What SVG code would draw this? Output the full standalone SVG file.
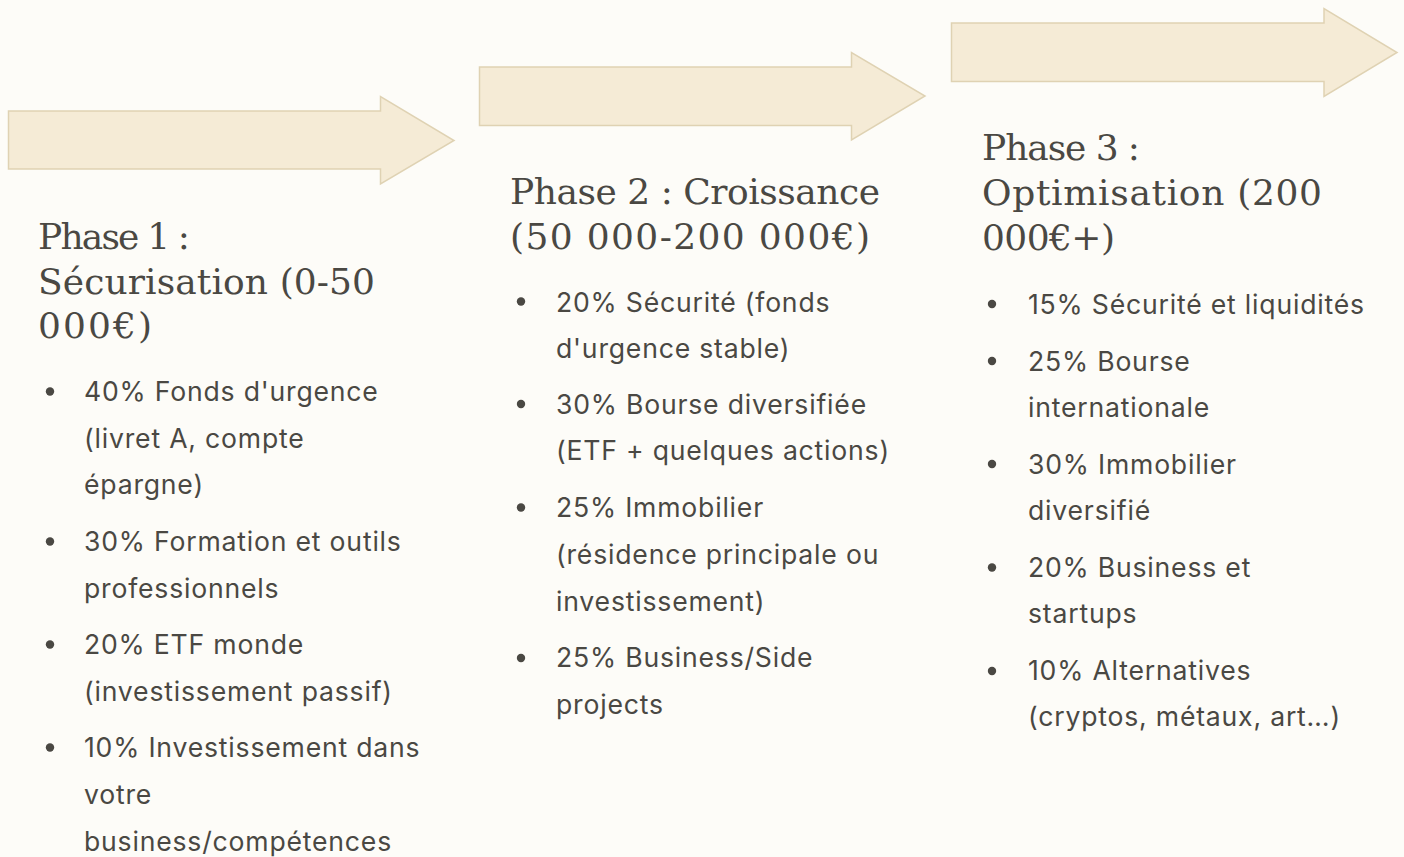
<svg xmlns="http://www.w3.org/2000/svg" width="1404" height="857" viewBox="0 0 1404 857">
<style>
.bg{fill:#FDFCF8}
.arrow{fill:#F5EBD6;stroke:#DFD2B3;stroke-width:1.5;stroke-linejoin:miter}
.title{font-family:"DejaVu Serif","Liberation Serif",serif;font-size:36px;fill:#4A4843}
.item{font-family:Inter,"Liberation Sans",sans-serif;font-size:26.6px;letter-spacing:0.8px;fill:#4A4843}
.dot{fill:#4A4843}
</style>
<rect class="bg" x="0" y="0" width="1404" height="857"/>
<g id="connectors">
<path class="arrow" d="M8.5,111 H380.5 V96.5 L454,140.5 L380.5,184 V169 H8.5 Z"/>
<path class="arrow" d="M479.5,67 H851.5 V52.5 L925,96 L851.5,140 V125.5 H479.5 Z"/>
<path class="arrow" d="M951.5,23 H1324 V8.5 L1397,52.5 L1324,96.5 V81.5 H951.5 Z"/>
</g>
<g id="phase1">
<text class="title"><tspan x="38" y="249" textLength="152" lengthAdjust="spacing">Phase 1 :</tspan><tspan x="38" y="293.5" textLength="337" lengthAdjust="spacing">Sécurisation (0-50</tspan><tspan x="38" y="338" textLength="114" lengthAdjust="spacing">000€)</tspan></text>
<circle class="dot" cx="50" cy="391.5" r="4.2"/>
<circle class="dot" cx="50" cy="541.5" r="4.2"/>
<circle class="dot" cx="50" cy="644.5" r="4.2"/>
<circle class="dot" cx="50" cy="747.5" r="4.2"/>
<text class="item"><tspan x="84" y="401">40% Fonds d'urgence</tspan><tspan x="84" y="447.5">(livret A, compte</tspan><tspan x="84" y="494">épargne)</tspan><tspan x="84" y="551">30% Formation et outils</tspan><tspan x="84" y="597.5">professionnels</tspan><tspan x="84" y="654">20% ETF monde</tspan><tspan x="84" y="700.5">(investissement passif)</tspan><tspan x="84" y="757">10% Investissement dans</tspan><tspan x="84" y="804">votre</tspan><tspan x="84" y="850.5">business/compétences</tspan></text>
</g>
<g id="phase2">
<text class="title"><tspan x="510" y="203.5" textLength="370" lengthAdjust="spacing">Phase 2 : Croissance</tspan><tspan x="510" y="248.5" textLength="360" lengthAdjust="spacing">(50 000-200 000€)</tspan></text>
<circle class="dot" cx="521" cy="301.5" r="4.2"/>
<circle class="dot" cx="521" cy="404" r="4.2"/>
<circle class="dot" cx="521" cy="507.5" r="4.2"/>
<circle class="dot" cx="521" cy="658" r="4.2"/>
<text class="item"><tspan x="556" y="311.5">20% Sécurité (fonds</tspan><tspan x="556" y="358">d'urgence stable)</tspan><tspan x="556" y="413.5">30% Bourse diversifiée</tspan><tspan x="556" y="460">(ETF + quelques actions)</tspan><tspan x="556" y="517">25% Immobilier</tspan><tspan x="556" y="563.5">(résidence principale ou</tspan><tspan x="556" y="610.5">investissement)</tspan><tspan x="556" y="667">25% Business/Side</tspan><tspan x="556" y="713.5">projects</tspan></text>
</g>
<g id="phase3">
<text class="title"><tspan x="982" y="159.5" textLength="158" lengthAdjust="spacing">Phase 3 :</tspan><tspan x="982" y="205" textLength="340" lengthAdjust="spacing">Optimisation (200</tspan><tspan x="982" y="250" textLength="133" lengthAdjust="spacing">000€+)</tspan></text>
<circle class="dot" cx="992" cy="304" r="4.2"/>
<circle class="dot" cx="992" cy="361" r="4.2"/>
<circle class="dot" cx="992" cy="464" r="4.2"/>
<circle class="dot" cx="992" cy="567.5" r="4.2"/>
<circle class="dot" cx="992" cy="671" r="4.2"/>
<text class="item"><tspan x="1028" y="313.5">15% Sécurité et liquidités</tspan><tspan x="1028" y="370.5">25% Bourse</tspan><tspan x="1028" y="416.5">internationale</tspan><tspan x="1028" y="473.5">30% Immobilier</tspan><tspan x="1028" y="519.5">diversifié</tspan><tspan x="1028" y="577">20% Business et</tspan><tspan x="1028" y="623">startups</tspan><tspan x="1028" y="680">10% Alternatives</tspan><tspan x="1028" y="726">(cryptos, métaux, art…)</tspan></text>
</g>
</svg>
